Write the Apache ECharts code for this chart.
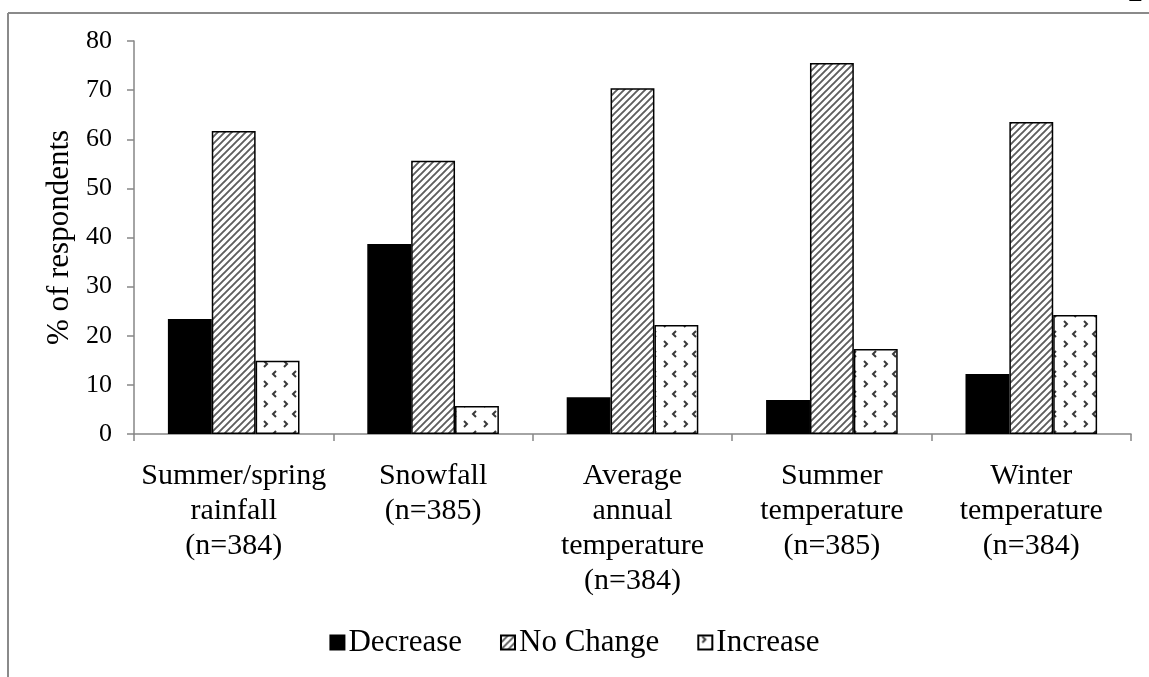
<!DOCTYPE html>
<html>
<head>
<meta charset="utf-8">
<script src="https://cdn.jsdelivr.net/npm/echarts@6/dist/echarts.min.js"></script>
<style>
html,body{margin:0;padding:0;background:#fff;}
#chart{width:1149px;height:677px;}
</style>
</head>
<body>
<div id="chart"></div>
<script>
const categories = [
  'Summer/spring\nrainfall\n(n=384)',
  'Snowfall\n(n=385)',
  'Average\nannual\ntemperature\n(n=384)',
  'Summer\ntemperature\n(n=385)',
  'Winter\ntemperature\n(n=384)'
];
const decrease = [23.4, 38.7, 7.5, 6.9, 12.2];
const noChange = [61.7, 55.6, 70.4, 75.5, 63.5];
const increase = [14.9, 5.7, 22.2, 17.3, 24.2];
const seriesNames = ['Decrease', 'No Change', 'Increase'];
const yTicks = {min: 0, max: 80, interval: 10};

function hatchPattern() {
  const c = document.createElement('canvas');
  c.width = 7; c.height = 7;
  const g = c.getContext('2d');
  g.fillStyle = '#ffffff';
  g.fillRect(0, 0, 7, 7);
  g.strokeStyle = '#5e5e5e';
  g.lineWidth = 1.9;
  g.beginPath();
  g.moveTo(-2, 9); g.lineTo(9, -2);
  g.moveTo(-9, 9); g.lineTo(9, -9);
  g.moveTo(-2, 16); g.lineTo(16, -2);
  g.stroke();
  return c;
}
function dotPattern() {
  const c = document.createElement('canvas');
  c.width = 20; c.height = 20;
  const g = c.getContext('2d');
  g.fillStyle = '#ffffff';
  g.fillRect(0, 0, 20, 20);
  g.strokeStyle = '#3a3a3a';
  g.lineWidth = 2;
  function chev(x, y, dir) {
    g.beginPath();
    g.moveTo(x, y);
    g.lineTo(x + dir * 3, y + 3);
    g.lineTo(x, y + 6);
    g.stroke();
  }
  chev(4, 1, 1);
  chev(16, 11, -1);
  return c;
}

const chart = echarts.init(document.getElementById('chart'), null, {renderer: 'canvas'});
const font = "'Liberation Serif', 'Times New Roman', serif";
const hatch = {image: hatchPattern(), repeat: 'repeat'};
const dots = {image: dotPattern(), repeat: 'repeat'};

const option = {
  animation: false,
  backgroundColor: '#ffffff',
  grid: {left: 134, right: 18, top: 41, bottom: 243, containLabel: false},
  legend: {
    bottom: 14,
    left: 'center',
    itemWidth: 14,
    itemHeight: 14,
    itemGap: 38,
    icon: 'rect',
    textStyle: {fontFamily: font, fontSize: 31, color: '#000', padding: [0, 0, 0, -1]},
    data: seriesNames
  },
  xAxis: {
    type: 'category',
    data: categories,
    axisLine: {lineStyle: {color: '#868686', width: 1.5}},
    axisTick: {show: true, alignWithLabel: false, length: 7, lineStyle: {color: '#868686', width: 1.5}},
    axisLabel: {fontFamily: font, fontSize: 30, lineHeight: 35, color: '#000', margin: 25, interval: 0}
  },
  yAxis: {
    type: 'value',
    min: yTicks.min, max: yTicks.max, interval: yTicks.interval,
    name: '% of respondents',
    nameLocation: 'middle',
    nameGap: 47,
    nameRotate: 90,
    nameTextStyle: {fontFamily: font, fontSize: 31, color: '#000'},
    axisLine: {show: true, lineStyle: {color: '#868686', width: 1.5}},
    axisTick: {show: true, length: 7, lineStyle: {color: '#868686', width: 1.5}},
    splitLine: {show: false},
    axisLabel: {fontFamily: font, fontSize: 26, color: '#000', margin: 22}
  },
  series: [
    {name: seriesNames[0], type: 'bar', data: decrease, barGap: '0%', barCategoryGap: '34%',
      itemStyle: {color: '#000000', borderColor: '#000', borderWidth: 1.5}},
    {name: seriesNames[1], type: 'bar', data: noChange, barGap: '0%', barCategoryGap: '34%',
      itemStyle: {color: hatch, borderColor: '#000', borderWidth: 1.5}},
    {name: seriesNames[2], type: 'bar', data: increase, barGap: '0%', barCategoryGap: '34%',
      itemStyle: {color: dots, borderColor: '#000', borderWidth: 1.5}}
  ],
  graphic: [
    {type: 'line', shape: {x1: 8, y1: 13, x2: 1149, y2: 13}, style: {stroke: '#8a8a8a', lineWidth: 2}},
    {type: 'line', shape: {x1: 8, y1: 13, x2: 8, y2: 677}, style: {stroke: '#8a8a8a', lineWidth: 2}},
    {type: 'text', x: 1128, y: 8, style: {text: '2', font: "30px 'Liberation Serif'", fill: '#000', verticalAlign: 'bottom'}}
  ]
};
chart.setOption(option);
</script>
</body>
</html>
